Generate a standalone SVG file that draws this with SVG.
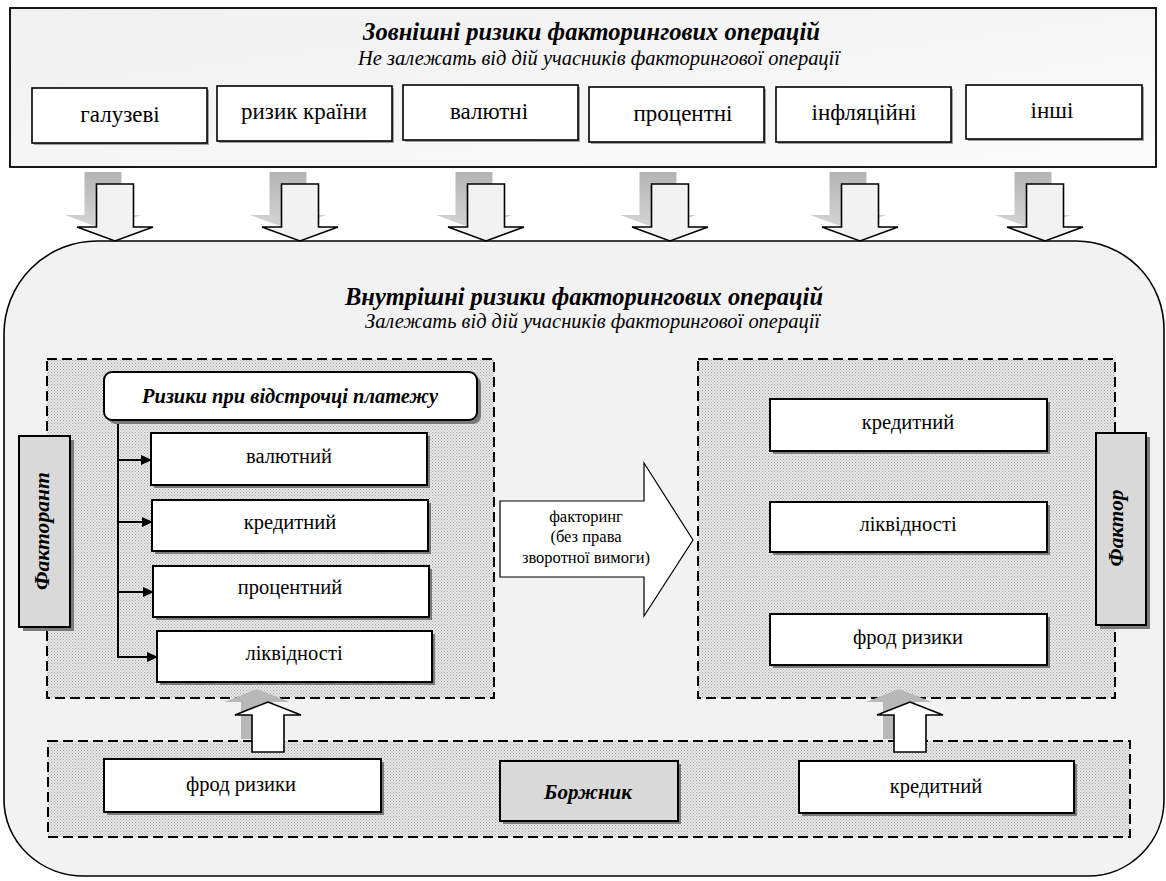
<svg xmlns="http://www.w3.org/2000/svg" width="1166" height="881" viewBox="0 0 1166 881">
<style>
.bi{font-weight:bold;font-style:italic}
.it{font-style:italic}
.box{fill:#fff;stroke:#000;stroke-width:2}
.tbox{fill:#fff;stroke:#000;stroke-width:1.6}
.gbox{fill:#d9d9d9;stroke:#000;stroke-width:2}
.sh{fill:#7a7a7a}
.lsh{fill:#a0a0a0}
.dash{fill:url(#dots);stroke:#000;stroke-width:2;stroke-dasharray:10 5}
.warr{fill:#f2f2f2;stroke:#000;stroke-width:1.6}
.uarr{fill:#fff;stroke:#000;stroke-width:1.6}
.ush{fill:#b8b8b8}
.conn{stroke:#000;stroke-width:2;fill:none}
</style>
<defs>
<pattern id="dots" width="3" height="3" patternUnits="userSpaceOnUse">
<rect width="3" height="3" fill="#e8e8e8"/>
<rect width="1" height="1" fill="#a8a8a8"/>
<rect x="1.5" y="1.5" width="1" height="1" fill="#a8a8a8"/>
</pattern>
<linearGradient id="shg" x1="0" y1="0" x2="0" y2="1">
<stop offset="0" stop-color="#b4b4b4"/>
<stop offset="1" stop-color="#d6d6d6"/>
</linearGradient>
<linearGradient id="topg" x1="0" y1="0" x2="1" y2="1">
<stop offset="0" stop-color="#f0f0f0"/>
<stop offset="1" stop-color="#fbfbfb"/>
</linearGradient>
<path id="darr" d="M-18.5,-57 H18.5 V-14 H38 L0,0 L-38,-14 H-18.5 Z"/>
<path id="uarr" d="M-16,50 H16 V13 H33 L0,0 L-33,13 H-16 Z"/>
<marker id="ah" markerWidth="11" markerHeight="10" refX="10" refY="5" orient="auto" markerUnits="userSpaceOnUse">
<path d="M0,0 L11,5 L0,10 Z" fill="#000"/>
</marker>
</defs>

<g id="external">
<rect x="10" y="8" width="1146" height="159" fill="url(#topg)" stroke="#000" stroke-width="1.8"/>
<text class="bi" font-family="Liberation Serif" x="591.5" y="40" font-size="25" text-anchor="middle" textLength="457" lengthAdjust="spacingAndGlyphs">Зовнішні ризики факторингових операцій</text>
<text class="it" font-family="Liberation Serif" x="599" y="65" font-size="20.5" text-anchor="middle" textLength="482" lengthAdjust="spacingAndGlyphs">Не залежать від дій учасників факторингової операції</text>
</g>

<g id="ext-galuzevi">
<rect class="lsh" x="34" y="90" width="175" height="55"/>
<rect class="tbox" x="32" y="88" width="175" height="55"/>
<text font-family="Liberation Serif" x="120" y="122" font-size="23" text-anchor="middle">галузеві</text>
</g>
<g id="ext-kraina">
<rect class="lsh" x="219" y="88" width="175" height="55"/>
<rect class="tbox" x="217" y="86" width="175" height="55"/>
<text font-family="Liberation Serif" x="304" y="119" font-size="23" text-anchor="middle">ризик країни</text>
</g>
<g id="ext-valiutni">
<rect class="lsh" x="405" y="87" width="175" height="55"/>
<rect class="tbox" x="403" y="85" width="175" height="55"/>
<text font-family="Liberation Serif" x="489" y="119" font-size="23" text-anchor="middle">валютні</text>
</g>
<g id="ext-protsentni">
<rect class="lsh" x="591" y="89" width="175" height="55"/>
<rect class="tbox" x="589" y="87" width="175" height="55"/>
<text font-family="Liberation Serif" x="683" y="121" font-size="23" text-anchor="middle">процентні</text>
</g>
<g id="ext-infliatsiini">
<rect class="lsh" x="778" y="89" width="175" height="55"/>
<rect class="tbox" x="776" y="87" width="175" height="55"/>
<text font-family="Liberation Serif" x="864" y="120" font-size="23" text-anchor="middle">інфляційні</text>
</g>
<g id="ext-inshi">
<rect class="lsh" x="968" y="87" width="176" height="54"/>
<rect class="tbox" x="966" y="85" width="176" height="54"/>
<text font-family="Liberation Serif" x="1052" y="118" font-size="23" text-anchor="middle">інші</text>
</g>

<g id="internal">
<path d="M97,241 H1076 A88,88 0 0 1 1164,329 V800 A76,76 0 0 1 1088,876 H84 A80,76 0 0 1 4,800 V334 A93,93 0 0 1 97,241 Z" fill="#f2f2f2" stroke="#000" stroke-width="1.6"/>
<text class="bi" font-family="Liberation Serif" x="584" y="305" font-size="25" text-anchor="middle" textLength="478" lengthAdjust="spacingAndGlyphs">Внутрішні ризики факторингових операцій</text>
<text class="it" font-family="Liberation Serif" x="592.5" y="328" font-size="20.5" text-anchor="middle" textLength="455" lengthAdjust="spacingAndGlyphs">Залежать від дій учасників факторингової операції</text>
</g>

<g id="panel-factorant">
<rect class="dash" x="47" y="359" width="447" height="339"/>
</g>
<g id="panel-factor">
<rect class="dash" x="698" y="359" width="417" height="339"/>
</g>
<g id="panel-borzhnyk">
<rect class="dash" x="48" y="741" width="1082" height="96"/>
</g>

<g id="connectors">
<g fill="url(#shg)">
<use href="#darr" transform="translate(103,229)"/>
<use href="#darr" transform="translate(288,229)"/>
<use href="#darr" transform="translate(474,229)"/>
<use href="#darr" transform="translate(658,229)"/>
<use href="#darr" transform="translate(848,229)"/>
<use href="#darr" transform="translate(1033,229)"/>
</g>
<use class="warr" href="#darr" transform="translate(115,241)"/>
<use class="warr" href="#darr" transform="translate(300,241)"/>
<use class="warr" href="#darr" transform="translate(486,241)"/>
<use class="warr" href="#darr" transform="translate(670,241)"/>
<use class="warr" href="#darr" transform="translate(860,241)"/>
<use class="warr" href="#darr" transform="translate(1045,241)"/>

<use class="ush" href="#uarr" transform="translate(257,689)"/>
<use class="ush" href="#uarr" transform="translate(899,689)"/>
<use class="uarr" href="#uarr" transform="translate(268,702)"/>
<use class="uarr" href="#uarr" transform="translate(910,702)"/>

<path class="conn" d="M118,420 V658"/>
<path class="conn" d="M117,460 H151" marker-end="url(#ah)"/>
<path class="conn" d="M117,522 H152" marker-end="url(#ah)"/>
<path class="conn" d="M117,592 H153" marker-end="url(#ah)"/>
<path class="conn" d="M117,657 H157" marker-end="url(#ah)"/>

<path d="M500,501 H644 V463 L693,540 L644,616 V577 H500 Z" fill="#fff" stroke="#000" stroke-width="1.2"/>
<text font-family="Liberation Serif" font-size="16.5" text-anchor="middle"><tspan x="586" y="522">факторинг</tspan><tspan x="586" y="542">(без права</tspan><tspan x="586" y="563">зворотної вимоги)</tspan></text>
</g>

<g id="factorant">
<rect class="sh" x="23" y="440" width="51" height="191"/>
<rect class="gbox" x="19" y="436" width="51" height="191"/>
<text class="bi" font-family="Liberation Serif" font-size="21" text-anchor="middle" transform="translate(49,531) rotate(-90)" textLength="118" lengthAdjust="spacingAndGlyphs">Факторант</text>
</g>

<g id="rizyky-vidstrochka">
<rect class="sh" x="108" y="376" width="373" height="48" rx="8"/>
<rect class="box" x="104" y="372" width="373" height="48" rx="8"/>
<text class="bi" font-family="Liberation Serif" x="290" y="403" font-size="21" text-anchor="middle" textLength="296" lengthAdjust="spacingAndGlyphs">Ризики при відстрочці платежу</text>
</g>

<g id="l-valiutnyi">
<rect class="sh" x="154" y="436" width="276" height="52"/>
<rect class="box" x="151" y="433" width="276" height="52"/>
<text font-family="Liberation Serif" x="289" y="463" font-size="20.5" text-anchor="middle">валютний</text>
</g>
<g id="l-kredytnyi">
<rect class="sh" x="155" y="503" width="276" height="51"/>
<rect class="box" x="152" y="500" width="276" height="51"/>
<text font-family="Liberation Serif" x="290" y="529" font-size="20.5" text-anchor="middle">кредитний</text>
</g>
<g id="l-protsentnyi">
<rect class="sh" x="156" y="569" width="276" height="51"/>
<rect class="box" x="153" y="566" width="276" height="51"/>
<text font-family="Liberation Serif" x="290" y="594" font-size="20.5" text-anchor="middle">процентний</text>
</g>
<g id="l-likvidnosti">
<rect class="sh" x="160" y="634" width="275" height="51"/>
<rect class="box" x="157" y="631" width="275" height="51"/>
<text font-family="Liberation Serif" x="294" y="660" font-size="20.5" text-anchor="middle">ліквідності</text>
</g>

<g id="r-kredytnyi">
<rect class="sh" x="773" y="402" width="277" height="52"/>
<rect class="box" x="770" y="399" width="277" height="52"/>
<text font-family="Liberation Serif" x="908" y="429" font-size="20.5" text-anchor="middle">кредитний</text>
</g>
<g id="r-likvidnosti">
<rect class="sh" x="773" y="505" width="277" height="50"/>
<rect class="box" x="770" y="502" width="277" height="50"/>
<text font-family="Liberation Serif" x="908" y="531" font-size="20.5" text-anchor="middle">ліквідності</text>
</g>
<g id="r-frod">
<rect class="sh" x="773" y="617" width="277" height="51"/>
<rect class="box" x="770" y="614" width="277" height="51"/>
<text font-family="Liberation Serif" x="908" y="644" font-size="20.5" text-anchor="middle">фрод ризики</text>
</g>

<g id="factor">
<rect class="sh" x="1100" y="437" width="50" height="192"/>
<rect class="gbox" x="1096" y="433" width="50" height="192"/>
<text class="bi" font-family="Liberation Serif" font-size="21" text-anchor="middle" transform="translate(1123,528) rotate(-90)" textLength="77" lengthAdjust="spacingAndGlyphs">Фактор</text>
</g>

<g id="b-frod">
<rect class="sh" x="107" y="762" width="277" height="53"/>
<rect class="box" x="104" y="759" width="277" height="53"/>
<text font-family="Liberation Serif" x="241" y="791" font-size="20.5" text-anchor="middle">фрод ризики</text>
</g>
<g id="borzhnyk">
<rect class="sh" x="503" y="764" width="178" height="60"/>
<rect class="gbox" x="500" y="761" width="178" height="60"/>
<text class="bi" font-family="Liberation Serif" x="588" y="799" font-size="21" text-anchor="middle">Боржник</text>
</g>
<g id="b-kredytnyi">
<rect class="sh" x="802" y="764" width="275" height="52"/>
<rect class="box" x="799" y="761" width="275" height="52"/>
<text font-family="Liberation Serif" x="936" y="793" font-size="20.5" text-anchor="middle">кредитний</text>
</g>
</svg>
